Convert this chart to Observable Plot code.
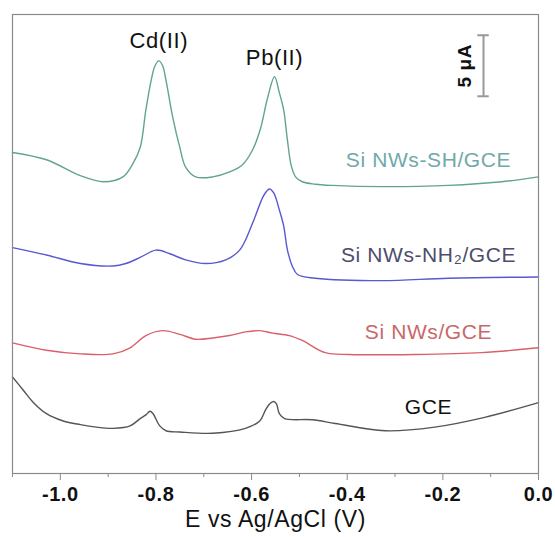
<!DOCTYPE html>
<html><head><meta charset="utf-8">
<script src="https://cdn.jsdelivr.net/npm/d3@7"></script>
<script src="https://cdn.jsdelivr.net/npm/@observablehq/plot@0.6"></script>
<style>body{margin:0;background:#fff}</style>
</head><body><div id="chart"></div>
<script>
// Potential E (V vs Ag/AgCl) and current I (μA, offset for display) per electrode
const seriesNames = ["Si NWs-SH/GCE", "Si NWs-NH₂/GCE", "Si NWs/GCE", "GCE"];

const shE = [-1.1,-1.029,-0.958,-0.91,-0.869,-0.848,-0.833,-0.821,-0.81,-0.802,-0.794,-0.786,-0.779,-0.765,-0.75,-0.738,-0.717,-0.681,-0.646,-0.619,-0.598,-0.581,-0.567,-0.552,-0.542,-0.533,-0.525,-0.517,-0.508,-0.494,-0.467,-0.431,-0.327,-0.188,-0.077,0];
const shI = [26.3,25.7,24.4,23.9,24.3,25.4,26.7,29.8,32.2,33.4,33.8,33.4,32.2,29.2,26.7,25.1,24.3,24.3,24.7,25.3,26.5,28.3,30.7,32.5,31.2,29.8,27.3,25.2,24.3,23.9,23.7,23.6,23.5,23.6,23.9,24.3];

const nh2E = [-1.1,-1.029,-0.958,-0.89,-0.863,-0.833,-0.8,-0.771,-0.738,-0.696,-0.654,-0.625,-0.598,-0.577,-0.569,-0.563,-0.554,-0.542,-0.533,-0.525,-0.515,-0.504,-0.467,-0.327,-0.188,0];
const nh2I = [18.5,17.9,17.2,17.0,17.2,17.7,18.3,18.0,17.5,17.2,17.5,18.3,20.5,22.6,23.1,23.3,23.0,21.6,20.3,18.3,17.0,16.3,16.0,15.8,16.0,16.1];

const nwE = [-1.1,-1.029,-0.958,-0.89,-0.854,-0.821,-0.786,-0.75,-0.717,-0.681,-0.646,-0.613,-0.583,-0.556,-0.521,-0.494,-0.446,-0.396,-0.258,-0.119,0];
const nwI = [10.7,10.1,9.8,9.8,10.3,11.3,11.7,11.4,11.0,11.1,11.3,11.6,11.7,11.5,11.3,10.9,9.9,9.75,9.75,9.9,10.3];

const gceE = [-1.1,-1.077,-1.056,-1.029,-0.994,-0.958,-0.925,-0.89,-0.854,-0.833,-0.821,-0.8125,-0.806,-0.792,-0.779,-0.75,-0.681,-0.613,-0.583,-0.571,-0.5625,-0.554,-0.548,-0.542,-0.531,-0.473,-0.425,-0.321,-0.217,-0.1125,0];
const gceI = [7.9,6.8,5.8,4.9,4.3,4.0,3.8,3.7,3.9,4.5,4.8,5.1,4.9,3.9,3.5,3.4,3.3,3.7,4.3,5.2,5.7,5.9,5.7,4.9,4.5,4.4,4.1,3.5,3.8,4.6,5.8];

const majorTicks = [-1.0,-0.8,-0.6,-0.4,-0.2,0.0];
const minorTicks = [-1.1,-0.9,-0.7,-0.5,-0.3,-0.1];

const peakNames = ["Cd(II)", "Pb(II)"];
const peakE = [-0.794, -0.552];
const peakI = [35.45, 34.06];

const labelE = -0.23;
const labelI = [25.7, 17.9, 11.6, 5.4];

const scaleBarE = -0.115;
const scaleBarI = [30.9, 35.9]; // 5 μA
const scaleBarText = "5 μA";

const lineColors = ["#62a392", "#5858d0", "#d9606a", "#555555"];
const textColors = ["#6fa9a9", "#4c4c6c", "#c86868", "#111111"];

const pairs = [[shE, shI], [nh2E, nh2I], [nwE, nwI], [gceE, gceI]];
const data = pairs.flatMap(([es, is], k) => es.map((e, i) => ({series: seriesNames[k], E: e, I: is[i]})));
const labels = seriesNames.map((s, k) => ({text: s, E: labelE, I: labelI[k], color: textColors[k]}));
const peaks = peakNames.map((p, k) => ({text: p, E: peakE[k], I: peakI[k]}));

const chart = Plot.plot({
  width: 555, height: 537,
  marginLeft: 12, marginRight: 17, marginTop: 14, marginBottom: 64,
  style: {fontFamily: "'Liberation Sans', Arial, sans-serif", background: "#fff", letterSpacing: "0.6px"},
  x: {domain: [-1.1, 0]},
  y: {domain: [0, 37.6], axis: null},
  color: {domain: seriesNames, range: lineColors},
  marks: [
    Plot.line(data, {x: "E", y: "I", z: "series", stroke: "series", curve: "catmull-rom", strokeWidth: 1.4}),
    Plot.frame({stroke: "#8a8a8a", strokeWidth: 1.2}),
    Plot.axisX({ticks: minorTicks, tickSize: 4, tickFormat: () => "", stroke: "#8a8a8a", label: null}),
    Plot.axisX({ticks: majorTicks, tickSize: 7, tickPadding: 6, tickFormat: d => d.toFixed(1), stroke: "#8a8a8a",
      fill: "#111", fontSize: 20, fontWeight: "bold", label: null}),
    Plot.text(["E vs Ag/AgCl (V)"], {frameAnchor: "bottom", dy: 53, fontSize: 23, fill: "#111"}),
    Plot.text(peaks, {x: "E", y: "I", text: "text", fontSize: 22, fill: "#111"}),
    Plot.text(labels, {x: "E", y: "I", text: "text", fill: "color", fontSize: 21}),
    Plot.ruleX([scaleBarE], {y1: scaleBarI[0], y2: scaleBarI[1], stroke: "#999", strokeWidth: 2}),
    Plot.ruleY(scaleBarI, {x1: scaleBarE - 0.012, x2: scaleBarE + 0.012, stroke: "#999", strokeWidth: 2}),
    Plot.text([scaleBarText], {x: scaleBarE - 0.038, y: (scaleBarI[0] + scaleBarI[1]) / 2, rotate: -90, fontSize: 19, fontWeight: "bold", fill: "#111"})
  ]
});
document.getElementById("chart").append(chart);
</script>
</body></html>
